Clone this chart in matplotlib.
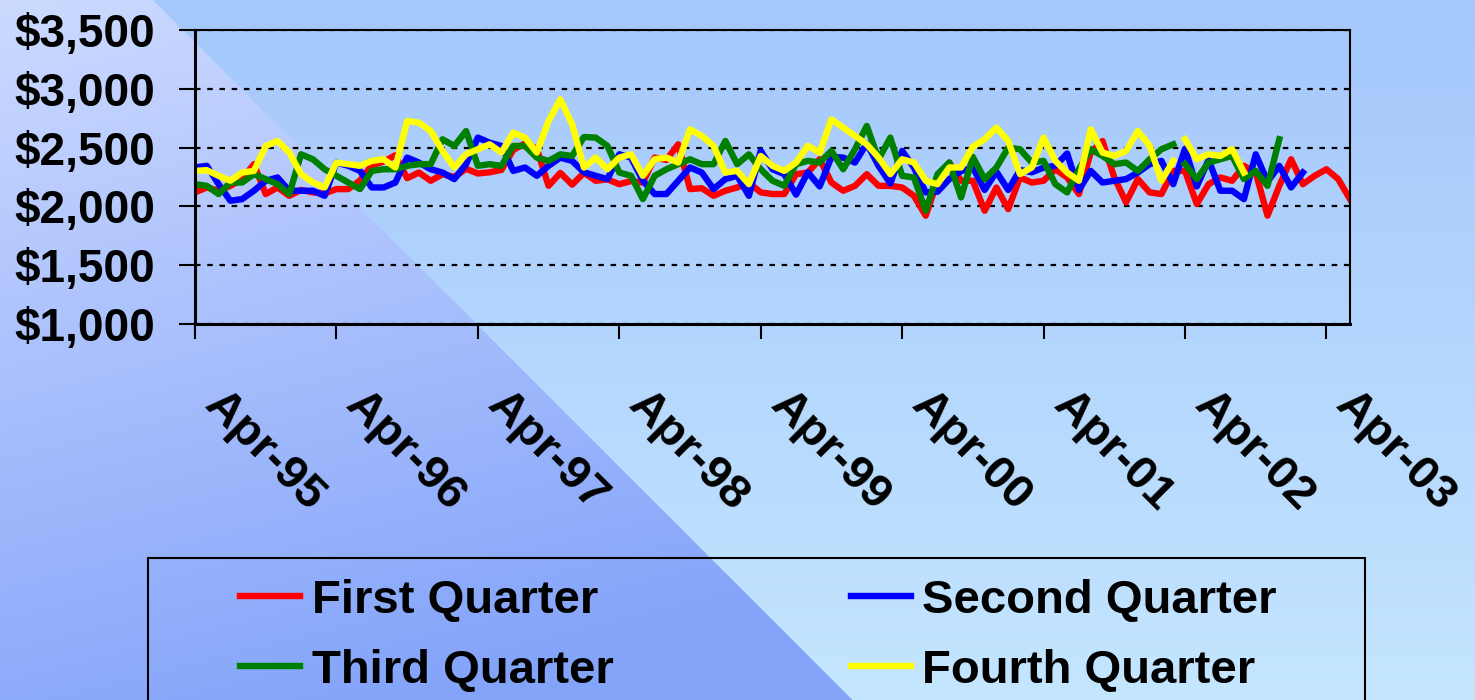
import numpy as np
import matplotlib
matplotlib.use("Agg")
import matplotlib.pyplot as plt
from matplotlib.patches import Rectangle
from matplotlib.ticker import FuncFormatter

plt.rcParams['font.family'] = ['Liberation Sans', 'DejaVu Sans']
plt.rcParams['font.weight'] = 'bold'

# monthly values, starting Apr-95
first_q = [2119, 2161, 2133, 2175, 2232, 2359, 2105, 2161, 2090, 2140, 2119, 2110,
           2147, 2147, 2220, 2350, 2380, 2435, 2240, 2288, 2218, 2274, 2250, 2320,
           2280, 2290, 2310, 2480, 2535, 2490, 2175, 2285, 2185, 2285, 2218, 2230,
           2189, 2215, 2203, 2415, 2395, 2528, 2147, 2155, 2090, 2133, 2161, 2200,
           2119, 2105, 2105, 2274, 2288, 2401, 2203, 2133, 2175, 2274, 2175, 2175,
           2161, 2090, 1921, 2218, 2373, 2218, 2218, 1963, 2161, 1977, 2246, 2203,
           2218, 2316, 2246, 2105, 2458, 2556, 2246, 2034, 2232, 2119, 2105, 2302,
           2302, 2020, 2189, 2246, 2218, 2345, 2288, 1921, 2175, 2401, 2189, 2260,
           2316, 2232, 2062]
second_q = [2331, 2345, 2189, 2048, 2062, 2133, 2218, 2246, 2133, 2133, 2133, 2090,
            2373, 2345, 2302, 2161, 2161, 2203, 2415, 2373, 2316, 2288, 2232, 2359,
            2585, 2542, 2514, 2302, 2331, 2260, 2345, 2415, 2387, 2290, 2260, 2232,
            2443, 2415, 2218, 2105, 2105, 2218, 2331, 2288, 2147, 2232, 2260, 2090,
            2472, 2316, 2274, 2100, 2290, 2170, 2420, 2415, 2373, 2535, 2345, 2195,
            2472, 2330, 2119, 2125, 2232, 2300, 2330, 2140, 2295, 2140, 2310, 2290,
            2330, 2345, 2450, 2140, 2302, 2203, 2218, 2232, 2288, 2359, 2387, 2189,
            2490, 2170, 2395, 2133, 2133, 2062, 2443, 2210, 2345, 2161, 2288]
third_q = [2189, 2175, 2105, 2203, 2203, 2274, 2232, 2189, 2105, 2443, 2401, 2316,
           2260, 2203, 2147, 2302, 2316, 2316, 2345, 2359, 2359, 2571, 2514, 2641,
           2345, 2359, 2345, 2514, 2514, 2415, 2387, 2443, 2429, 2590, 2585, 2514,
           2288, 2260, 2062, 2260, 2316, 2359, 2401, 2359, 2359, 2557, 2359, 2443,
           2316, 2218, 2175, 2359, 2387, 2373, 2472, 2316, 2486, 2684, 2401, 2585,
           2260, 2246, 1963, 2274, 2373, 2076, 2420, 2232, 2331, 2500, 2486, 2373,
           2387, 2189, 2119, 2316, 2486, 2429, 2359, 2373, 2302, 2401, 2486, 2528,
           2359, 2232, 2373, 2401, 2429, 2232, 2302, 2175, 2571]
fourth_q = [2302, 2308, 2260, 2218, 2288, 2302, 2514, 2556, 2458, 2274, 2203, 2161,
            2373, 2359, 2345, 2387, 2401, 2331, 2726, 2712, 2641, 2472, 2331, 2443,
            2486, 2528, 2458, 2627, 2585, 2458, 2726, 2910, 2698, 2330, 2415, 2316,
            2415, 2443, 2260, 2401, 2415, 2373, 2655, 2599, 2514, 2288, 2302, 2189,
            2429, 2345, 2302, 2373, 2514, 2458, 2740, 2670, 2599, 2528, 2415, 2274,
            2401, 2373, 2218, 2189, 2331, 2331, 2507, 2571, 2670, 2556, 2274, 2331,
            2585, 2387, 2288, 2218, 2655, 2458, 2429, 2472, 2641, 2514, 2218, 2387,
            2571, 2401, 2443, 2429, 2486, 2288]
# third and fourth series restart here (no joining segment)
restart = 84

year_labels = ['Apr-95', 'Apr-96', 'Apr-97', 'Apr-98', 'Apr-99',
               'Apr-00', 'Apr-01', 'Apr-02', 'Apr-03']
series_names = ['First Quarter', 'Second Quarter', 'Third Quarter', 'Fourth Quarter']
colors = ['#ff0000', '#0000ff', '#008000', '#ffff00']

W, H = 1475, 700
fig = plt.figure(figsize=(W / 100, H / 100), dpi=100)

# background: two-tone diagonal gradient
yy, xx = np.mgrid[0:H, 0:W].astype(float)
right = xx > 152 + yy
t_r = (yy / H)[..., None]
col_r = (1 - t_r) * np.array([164, 199, 252]) + t_r * np.array([196, 230, 255])
t_l = np.clip((yy + 0.25 * xx) / 800, 0, 1)[..., None]
col_l = (1 - t_l) * np.array([204, 218, 255]) + t_l * np.array([132, 164, 250])
bg = np.where(right[..., None], col_r, col_l) / 255.0
bgax = fig.add_axes([0, 0, 1, 1], zorder=-10)
bgax.imshow(bg, aspect='auto', interpolation='bilinear')
bgax.axis('off')

ax = fig.add_axes([195 / W, 1 - 324 / H, (1350 - 195) / W, (324 - 30) / H])
ax.set_facecolor('none')

LW = 4.6
lines = []
def draw(vals, color, label, split=None):
    x = np.arange(len(vals))
    v = np.array(vals, dtype=float)
    if split is None:
        ln, = ax.plot(x, v, color=color, lw=LW, label=label, solid_joinstyle='round')
    else:
        ln, = ax.plot(x[:split], v[:split], color=color, lw=LW, label=label,
                      solid_joinstyle='round')
        ax.plot(x[split:], v[split:], color=color, lw=LW, solid_joinstyle='round')
    lines.append(ln)

draw(first_q, colors[0], series_names[0])
draw(second_q, colors[1], series_names[1])
draw(third_q, colors[2], series_names[2], restart)
draw(fourth_q, colors[3], series_names[3], restart)

ax.set_xlim(0, 98)
ax.set_ylim(1000, 3500)
ax.set_yticks(np.arange(1000, 3501, 500))
ax.yaxis.set_major_formatter(FuncFormatter(lambda v, p: '${:,.0f}'.format(v)))
ax.grid(axis='y', color='black', linestyle=(0, (2.5, 3)), lw=1.6)
ax.set_axisbelow(True)

# year ticks, labels slanted down to the right
xt = np.arange(0, 97, 12)
ax.set_xticks(xt)
ax.set_xticklabels([])
for k, lab in zip(xt, year_labels):
    ax.annotate(lab, xy=(k, 0), xycoords=('data', 'axes fraction'),
                xytext=(23, -42.6), textcoords='offset points',
                rotation=-45, ha='left', va='top', rotation_mode='anchor',
                fontsize=34, fontweight='bold', annotation_clip=False)

ax.tick_params(axis='y', length=11.5, width=1.5, pad=17, labelsize=33)
ax.tick_params(axis='x', length=11, width=1.5)
for s in ['left', 'bottom']:
    ax.spines[s].set_linewidth(2.2)
for s in ['top', 'right']:
    ax.spines[s].set_linewidth(1.5)

# row-wise order: First, Second / Third, Fourth
order = [0, 2, 1, 3]
leg = fig.legend([lines[i] for i in order], [series_names[i] for i in order],
                 loc='upper left', bbox_to_anchor=(240 / W, 1 - 579 / H), ncol=2,
                 frameon=False, fontsize=34, handlelength=1.27, handletextpad=0.25,
                 columnspacing=5.02, labelspacing=0.54, borderpad=0,
                 borderaxespad=0)
for h in leg.legend_handles:
    h.set_linewidth(LW)

fig.add_artist(Rectangle((148 / W, -0.05), (1365 - 148) / W, (1 - 558 / H) + 0.05,
                         transform=fig.transFigure, fill=False, edgecolor='black',
                         lw=1.5))

fig.savefig('out.png', dpi=100)
